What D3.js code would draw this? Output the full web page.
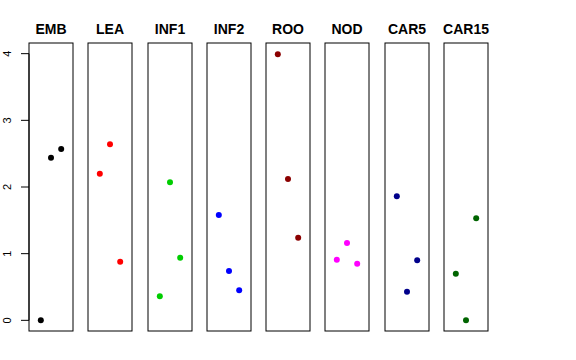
<!DOCTYPE html>
<html><head><meta charset="utf-8">
<script src="https://cdn.jsdelivr.net/npm/d3@7"></script>
<style>body{margin:0;background:#fff}svg{display:block}</style>
</head><body>
<script>
const categories = ["EMB","LEA","INF1","INF2","ROO","NOD","CAR5","CAR15"];
const colors = ["#000000","#FF0000","#00CD00","#0000FF","#8B0000","#FF00FF","#00008B","#006400"];
const valuesEMB = [0.00, 2.44, 2.57];
const valuesLEA = [2.20, 2.64, 0.88];
const valuesINF1 = [0.36, 2.07, 0.94];
const valuesINF2 = [1.58, 0.74, 0.45];
const valuesROO = [3.99, 2.12, 1.24];
const valuesNOD = [0.91, 1.16, 0.85];
const valuesCAR5 = [1.86, 0.43, 0.90];
const valuesCAR15 = [0.70, 0.00, 1.53];
const yTicks = [0, 1, 2, 3, 4];
const series = [valuesEMB, valuesLEA, valuesINF1, valuesINF2, valuesROO, valuesNOD, valuesCAR5, valuesCAR15];

const W = 576, H = 360;
const svg = d3.select("body").append("svg").attr("width", W).attr("height", H);

const panelTop = 43, panelBottom = 331;
const y = d3.scaleLinear().domain([-0.16, 4.16]).range([panelBottom, panelTop]);
const panelX = d3.scaleLinear().domain([0, 7]).range([29, 444]);
const panelW = 44;

categories.forEach((cat, i) => {
  const x0 = Math.round(panelX(i));
  const x = d3.scaleLinear().domain([-0.16, 4.16]).range([x0, x0 + panelW]);
  const g = svg.append("g");
  g.append("rect").attr("x", x0).attr("y", panelTop).attr("width", panelW)
    .attr("height", panelBottom - panelTop).attr("fill", "none")
    .attr("stroke", "#000").attr("stroke-width", 1);
  g.append("text").attr("x", x0 + panelW / 2).attr("y", 34)
    .attr("text-anchor", "middle").attr("font-family", "Liberation Sans, Arial, sans-serif")
    .attr("font-weight", "bold").attr("font-size", "14px").text(cat);
  g.selectAll("circle").data(series[i]).enter().append("circle")
    .attr("cx", (d, j) => x(j + 1)).attr("cy", d => y(d)).attr("r", 3)
    .attr("fill", colors[i]);
});

// y axis
const ax = svg.append("g");
ax.append("line").attr("x1", 29).attr("x2", 29).attr("y1", y(0)).attr("y2", y(4))
  .attr("stroke", "#000");
yTicks.forEach(t => {
  ax.append("line").attr("x1", 21).attr("x2", 29).attr("y1", y(t)).attr("y2", y(t))
    .attr("stroke", "#000");
  ax.append("text").attr("transform", `translate(11,${y(t)}) rotate(-90)`)
    .attr("text-anchor", "middle").attr("font-family", "Liberation Sans, Arial, sans-serif")
    .attr("font-size", "11px").text(t);
});
</script>
</body></html>
